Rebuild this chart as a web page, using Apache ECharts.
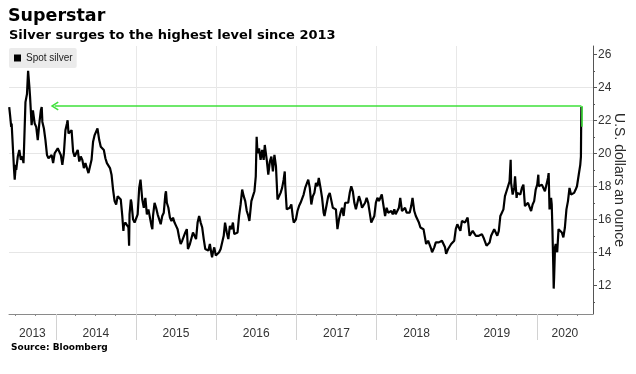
<!DOCTYPE html>
<html>
<head>
<meta charset="utf-8">
<script src="https://cdn.jsdelivr.net/npm/echarts@6/dist/echarts.min.js"></script>
<style>html,body{margin:0;padding:0;background:#fff}#chart{width:636px;height:374px}</style>
</head>
<body>
<div id="chart"></div>
<script>
// ---- Data ----
const silver2013 = [
['2013-06-03',22.8],['2013-06-07',22.3],['2013-06-12',21.6],['2013-06-14',21.8],['2013-06-21',20.0],['2013-06-25',19.0],['2013-06-28',18.4],['2013-07-03',19.3],['2013-07-05',19.0],['2013-07-12',19.8],['2013-07-19',20.2],['2013-07-26',19.6],['2013-08-02',19.8],['2013-08-07',19.4],['2013-08-09',20.1],['2013-08-16',23.1],['2013-08-23',23.6],['2013-08-28',25.0],['2013-09-03',24.0],['2013-09-06',23.4],['2013-09-13',21.7],['2013-09-19',22.6],['2013-09-27',21.8],['2013-10-04',21.6],['2013-10-11',20.8],['2013-10-18',21.8],['2013-10-25',22.6],['2013-10-29',22.8],['2013-11-01',21.9],['2013-11-08',21.5],['2013-11-15',20.8],['2013-11-22',19.9],['2013-11-29',19.7],['2013-12-06',19.6],['2013-12-13',19.9],['2013-12-20',19.4],['2013-12-27',20.0]
];
const silver2014 = [
['2014-01-03',20.1],['2014-01-10',20.3],['2014-01-17',20.3],['2014-01-24',19.9],['2014-01-31',19.3],['2014-02-07',20.0],['2014-02-14',21.4],['2014-02-21',21.8],['2014-02-24',22.0],['2014-02-28',21.2],['2014-03-07',21.3],['2014-03-14',21.4],['2014-03-21',20.1],['2014-03-28',19.8],['2014-04-04',20.0],['2014-04-11',20.2],['2014-04-18',19.5],['2014-04-25',19.8],['2014-05-02',19.6],['2014-05-09',19.1],['2014-05-16',19.4],['2014-05-23',19.1],['2014-05-30',18.8],['2014-06-04',18.7],['2014-06-13',19.6],['2014-06-20',20.7],['2014-06-27',21.1],['2014-07-04',21.0],['2014-07-10',21.5],['2014-07-18',20.8],['2014-07-25',20.4],['2014-08-01',20.4],['2014-08-08',20.2],['2014-08-15',19.7],['2014-08-22',19.4],['2014-08-29',19.3],['2014-09-05',19.1],['2014-09-12',18.7],['2014-09-19',17.8],['2014-09-26',17.1],['2014-10-03',16.9],['2014-10-10',17.4],['2014-10-17',17.3],['2014-10-24',17.2],['2014-10-31',16.2],['2014-11-05',15.3],['2014-11-07',15.6],['2014-11-14',15.8],['2014-11-21',15.7],['2014-11-28',15.5],['2014-12-01',14.4],['2014-12-03',16.3],['2014-12-09',17.2],['2014-12-12',17.0],['2014-12-19',16.0],['2014-12-26',15.8]
];
const silver2015 = [
['2015-01-02',15.7],['2015-01-09',16.3],['2015-01-16',17.9],['2015-01-22',18.4],['2015-01-30',17.2],['2015-02-06',16.7],['2015-02-13',17.3],['2015-02-20',16.3],['2015-02-27',16.6],['2015-03-06',16.1],['2015-03-13',15.6],['2015-03-17',15.4],['2015-03-20',16.2],['2015-03-27',17.0],['2015-04-03',16.7],['2015-04-10',16.3],['2015-04-17',16.2],['2015-04-24',15.7],['2015-05-01',16.2],['2015-05-08',16.4],['2015-05-15',17.5],['2015-05-18',17.7],['2015-05-22',17.0],['2015-05-29',16.7],['2015-06-05',16.1],['2015-06-12',15.9],['2015-06-19',16.1],['2015-06-26',15.8],['2015-07-03',15.6],['2015-07-10',15.4],['2015-07-17',14.9],['2015-07-24',14.5],['2015-07-31',14.7],['2015-08-07',14.7],['2015-08-14',15.2],['2015-08-21',15.4],['2015-08-26',14.2],['2015-09-04',14.5],['2015-09-11',14.6],['2015-09-18',15.2],['2015-09-25',15.1],['2015-10-02',14.8],['2015-10-09',15.8],['2015-10-16',16.2],['2015-10-23',15.8],['2015-10-30',15.5],['2015-11-06',14.8],['2015-11-13',14.2],['2015-11-20',14.1],['2015-11-27',14.1],['2015-12-04',14.5],['2015-12-11',13.9],['2015-12-14',13.7],['2015-12-18',14.0],['2015-12-24',14.3],['2015-12-31',13.8]
];
const silver2016 = [
['2016-01-08',13.9],['2016-01-15',14.0],['2016-01-22',14.2],['2016-01-29',14.3],['2016-02-05',15.0],['2016-02-11',15.8],['2016-02-19',15.2],['2016-02-26',14.8],['2016-03-04',15.6],['2016-03-11',15.4],['2016-03-18',15.8],['2016-03-24',15.1],['2016-04-01',15.0],['2016-04-08',15.2],['2016-04-15',16.2],['2016-04-22',16.9],['2016-04-29',17.8],['2016-05-06',17.4],['2016-05-13',17.1],['2016-05-20',16.5],['2016-05-27',16.2],['2016-06-01',15.9],['2016-06-10',17.1],['2016-06-17',17.4],['2016-06-24',17.7],['2016-06-30',18.6],['2016-07-04',21.0],['2016-07-08',20.0],['2016-07-15',20.3],['2016-07-22',19.6],['2016-07-29',20.2],['2016-08-05',19.6],['2016-08-10',20.5],['2016-08-19',19.6],['2016-08-26',18.7],['2016-09-02',19.5],['2016-09-09',19.8],['2016-09-16',18.9],['2016-09-23',19.9],['2016-09-30',19.2],['2016-10-07',17.2],['2016-10-14',17.4],['2016-10-21',17.6],['2016-10-28',17.9],['2016-11-04',18.4],['2016-11-09',18.9],['2016-11-11',18.1],['2016-11-18',16.6],['2016-11-25',16.5],['2016-12-02',16.7],['2016-12-09',16.9],['2016-12-16',16.1],['2016-12-20',15.8],['2016-12-30',16.0]
];
const silver2017 = [
['2017-01-06',16.5],['2017-01-13',16.8],['2017-01-20',17.0],['2017-01-27',17.1],['2017-02-03',17.5],['2017-02-10',17.9],['2017-02-17',18.0],['2017-02-24',18.4],['2017-03-03',17.9],['2017-03-10',16.9],['2017-03-17',17.4],['2017-03-24',17.6],['2017-03-31',18.2],['2017-04-07',18.0],['2017-04-13',18.5],['2017-04-21',17.9],['2017-04-28',17.3],['2017-05-05',16.4],['2017-05-09',16.2],['2017-05-19',16.9],['2017-05-26',17.4],['2017-06-02',17.6],['2017-06-06',17.7],['2017-06-16',16.7],['2017-06-23',16.6],['2017-06-30',16.6],['2017-07-07',15.4],['2017-07-14',16.0],['2017-07-21',16.4],['2017-07-28',16.7],['2017-08-04',16.2],['2017-08-11',17.0],['2017-08-18',17.0],['2017-08-25',17.0],['2017-09-01',17.6],['2017-09-08',18.0],['2017-09-15',17.7],['2017-09-22',17.0],['2017-09-29',16.6],['2017-10-06',16.6],['2017-10-13',17.4],['2017-10-20',17.1],['2017-10-27',16.7],['2017-11-03',16.8],['2017-11-10',17.0],['2017-11-17',17.3],['2017-11-24',17.0],['2017-12-01',16.4],['2017-12-08',15.8],['2017-12-12',15.7],['2017-12-22',16.2],['2017-12-29',17.0]
];
const silver2018 = [
['2018-01-05',17.3],['2018-01-12',17.1],['2018-01-19',17.0],['2018-01-25',17.5],['2018-02-02',16.8],['2018-02-09',16.2],['2018-02-16',16.7],['2018-02-23',16.4],['2018-03-02',16.5],['2018-03-09',16.5],['2018-03-16',16.3],['2018-03-23',16.6],['2018-03-29',16.3],['2018-04-06',16.4],['2018-04-13',16.7],['2018-04-19',17.3],['2018-04-27',16.5],['2018-05-04',16.5],['2018-05-11',16.7],['2018-05-18',16.4],['2018-05-25',16.5],['2018-06-01',16.4],['2018-06-08',16.8],['2018-06-14',17.3],['2018-06-22',16.5],['2018-06-29',16.2],['2018-07-06',16.1],['2018-07-13',15.8],['2018-07-20',15.5],['2018-07-27',15.5],['2018-08-03',15.4],['2018-08-10',15.3],['2018-08-15',14.5],['2018-08-24',14.7],['2018-08-31',14.6],['2018-09-07',14.2],['2018-09-11',14.0],['2018-09-21',14.3],['2018-09-28',14.6],['2018-10-05',14.6],['2018-10-12',14.6],['2018-10-19',14.6],['2018-10-26',14.7],['2018-11-02',14.8],['2018-11-09',14.3],['2018-11-14',13.9],['2018-11-23',14.2],['2018-11-30',14.2],['2018-12-07',14.5],['2018-12-14',14.6],['2018-12-21',14.7],['2018-12-28',15.4]
];
const silver2019 = [
['2019-01-04',15.7],['2019-01-11',15.6],['2019-01-18',15.3],['2019-01-25',15.9],['2019-02-01',16.0],['2019-02-08',15.8],['2019-02-15',15.8],['2019-02-20',16.1],['2019-03-01',15.0],['2019-03-08',15.1],['2019-03-15',15.3],['2019-03-22',15.4],['2019-03-29',15.0],['2019-04-05',15.1],['2019-04-12',15.0],['2019-04-19',15.0],['2019-04-26',15.1],['2019-05-03',14.9],['2019-05-10',14.9],['2019-05-17',14.4],['2019-05-24',14.5],['2019-05-31',14.6],['2019-06-07',15.0],['2019-06-14',15.0],['2019-06-21',15.4],['2019-06-28',15.3],['2019-07-05',15.0],['2019-07-12',15.3],['2019-07-19',16.2],['2019-07-26',16.4],['2019-08-02',16.6],['2019-08-09',17.4],['2019-08-16',17.7],['2019-08-23',17.6],['2019-08-30',18.3],['2019-09-04',19.6],['2019-09-06',18.2],['2019-09-13',17.5],['2019-09-20',17.9],['2019-09-24',18.6],['2019-10-01',17.3],['2019-10-04',17.6],['2019-10-11',17.6],['2019-10-18',17.5],['2019-10-25',17.9],['2019-11-01',18.1],['2019-11-08',16.8],['2019-11-15',16.9],['2019-11-22',17.0],['2019-11-29',17.0],['2019-12-06',16.5],['2019-12-13',16.9],['2019-12-20',17.1],['2019-12-27',17.8]
];
const silver2020 = [
['2020-01-03',18.1],['2020-01-08',18.7],['2020-01-10',18.0],['2020-01-17',18.0],['2020-01-24',18.1],['2020-01-31',18.0],['2020-02-07',17.7],['2020-02-14',17.7],['2020-02-21',18.5],['2020-02-24',18.8],['2020-02-28',16.6],['2020-03-06',17.3],['2020-03-09',16.9],['2020-03-12',15.5],['2020-03-16',13.2],['2020-03-18',11.8],['2020-03-20',12.5],['2020-03-24',14.3],['2020-03-27',14.5],['2020-04-03',14.0],['2020-04-09',15.4],['2020-04-17',15.3],['2020-04-24',15.2],['2020-05-01',14.9],['2020-05-08',15.5],['2020-05-15',16.6],['2020-05-22',17.1],['2020-05-29',17.9],['2020-06-05',17.5],['2020-06-12',17.5],['2020-06-19',17.6],['2020-06-26',17.8],['2020-07-02',18.0],['2020-07-10',18.7],['2020-07-17',19.3],['2020-07-20',19.8],['2020-07-21',21.5],['2020-07-22',22.8]
];
const years = [2013, 2014, 2015, 2016, 2017, 2018, 2019, 2020];
const yTickValues = [12, 14, 16, 18, 20, 22, 24, 26];
const yMinorValues = [11, 13, 15, 17, 19, 21, 23, 25];
const arrowLevel = 22.87;      // level of the green "since 2013" arrow
const arrowFromLevel = 21.6;   // bottom of the green drop at the end
const arrowTipDate = '2013-12-27';
const arrowEndDate = '2020-07-22';
const axisStart = '2013-06-02';
const axisEnd = '2020-09-13';

// ---- Build ----
function d(y, m, day) { return Date.UTC(y, m, day); }
function parseDay(s) { const p = s.split('-').map(Number); return d(p[0], p[1] - 1, p[2]); }
const allData = [].concat(silver2013, silver2014, silver2015, silver2016, silver2017, silver2018, silver2019, silver2020)
  .map(r => [parseDay(r[0]), r[1]]);
const tMin = parseDay(axisStart), tMax = parseDay(axisEnd);
const yearStarts = years.slice(1).map(y => d(y, 0, 1));
const quarterTicks = [];
years.forEach(y => [0, 3, 6, 9].forEach(m => { const t = d(y, m, 1); if (t > tMin && t < tMax) quarterTicks.push(t); }));
const labelCenters = years.map(y => {
  const a = Math.max(tMin, d(y, 0, 1)), b = Math.min(tMax, d(y + 1, 0, 1));
  return (a + b) / 2;
});
const tArrowTip = parseDay(arrowTipDate), tArrowEnd = parseDay(arrowEndDate);

const FONT = 'Liberation Sans, Arial, sans-serif';
const chevron = 'path://M5,0 L10,8 L8.6,9 L5,3 L1.4,9 L0,8 Z';

const chart = echarts.init(document.getElementById('chart'), null, { renderer: 'canvas' });
chart.setOption({
  animation: false,
  backgroundColor: '#ffffff',
  title: [
    { text: 'Superstar', left: 8, top: 7, padding: 0,
      textStyle: { fontFamily: 'DejaVu Sans', fontWeight: 'bold', fontSize: 17.5, color: '#000' } },
    { text: 'Silver surges to the highest level since 2013', left: 9, top: 29, padding: 0,
      textStyle: { fontFamily: 'DejaVu Sans', fontWeight: 'bold', fontSize: 13, color: '#000' } },
    { text: 'Source: Bloomberg', left: 11, top: 343, padding: 0,
      textStyle: { fontFamily: 'DejaVu Sans', fontWeight: 'bold', fontSize: 9, color: '#000' } }
  ],
  legend: {
    show: true, left: 9, top: 48, selectedMode: false,
    icon: 'rect', itemWidth: 7, itemHeight: 7,
    backgroundColor: '#ebebeb', borderRadius: 2, padding: [5, 4, 5, 5],
    textStyle: { fontFamily: FONT, fontSize: 10, color: '#222' },
    data: ['Spot silver']
  },
  grid: { left: 9, right: 43, top: 46, bottom: 60, containLabel: false, outerBoundsMode: 'none' },
  xAxis: [
    { type: 'value', min: tMin, max: tMax, position: 'bottom',
      axisLine: { show: true, onZero: false, lineStyle: { color: '#8a8a8a', width: 1 } },
      axisTick: { show: true, customValues: quarterTicks, length: 2, lineStyle: { color: '#8a8a8a' } },
      axisLabel: { show: true, customValues: labelCenters, margin: 14, color: '#333', fontFamily: FONT, fontSize: 12,
        formatter: v => String(new Date(v).getUTCFullYear()), hideOverlap: false },
      splitLine: { show: false } },
    { type: 'value', min: tMin, max: tMax, position: 'bottom',
      axisLine: { show: false, onZero: false },
      axisTick: { show: true, customValues: yearStarts, length: 26, lineStyle: { color: '#d2d2d2' } },
      axisLabel: { show: false },
      splitLine: { show: true, showMinLine: false, showMaxLine: false, lineStyle: { color: '#e8e8e8', width: 1 } } }
  ],
  yAxis: [
    { type: 'value', position: 'right', min: 10.26, max: 26.5, splitNumber: 8,
      name: 'U.S. dollars an ounce', nameLocation: 'middle', nameRotate: -90, nameGap: 19, nameMoveOverlap: false,
      nameTextStyle: { fontFamily: FONT, fontSize: 14, color: '#2a2a2a' },
      axisLine: { show: true, onZero: false, lineStyle: { color: '#555' } },
      axisTick: { show: true, customValues: yTickValues, length: 4, lineStyle: { color: '#555' } },
      axisLabel: { show: true, customValues: yTickValues, margin: 5, color: '#333', fontFamily: FONT, fontSize: 12 },
      splitLine: { show: true, showMinLine: false, showMaxLine: false, lineStyle: { color: '#e6e6e6', width: 1 } } },
    { type: 'value', position: 'right', min: 10.26, max: 26.5,
      axisLine: { show: false, onZero: false },
      axisTick: { show: true, customValues: yMinorValues, length: 2, lineStyle: { color: '#555' } },
      axisLabel: { show: false },
      splitLine: { show: false } }
  ],
  series: [
    { type: 'line', name: 'Spot silver', xAxisIndex: 0, yAxisIndex: 0,
      data: allData, symbol: 'none', showSymbol: false, smooth: false,
      lineStyle: { color: '#000', width: 2.2 }, itemStyle: { color: '#000' },
      z: 3,
      markLine: {
        silent: true, animation: false, symbol: ['none', 'none'],
        label: { show: false },
        lineStyle: { color: '#3ee03a', width: 1.6, type: 'solid' },
        data: [
          [ { coord: [tArrowEnd, arrowLevel], symbol: 'none' },
            { coord: [tArrowTip, arrowLevel], symbol: chevron, symbolSize: [9, 8] } ],
          [ { coord: [tArrowEnd, arrowFromLevel], symbol: 'none' },
            { coord: [tArrowEnd, arrowLevel], symbol: 'none' } ]
        ]
      } }
  ]
});
</script>
</body>
</html>
